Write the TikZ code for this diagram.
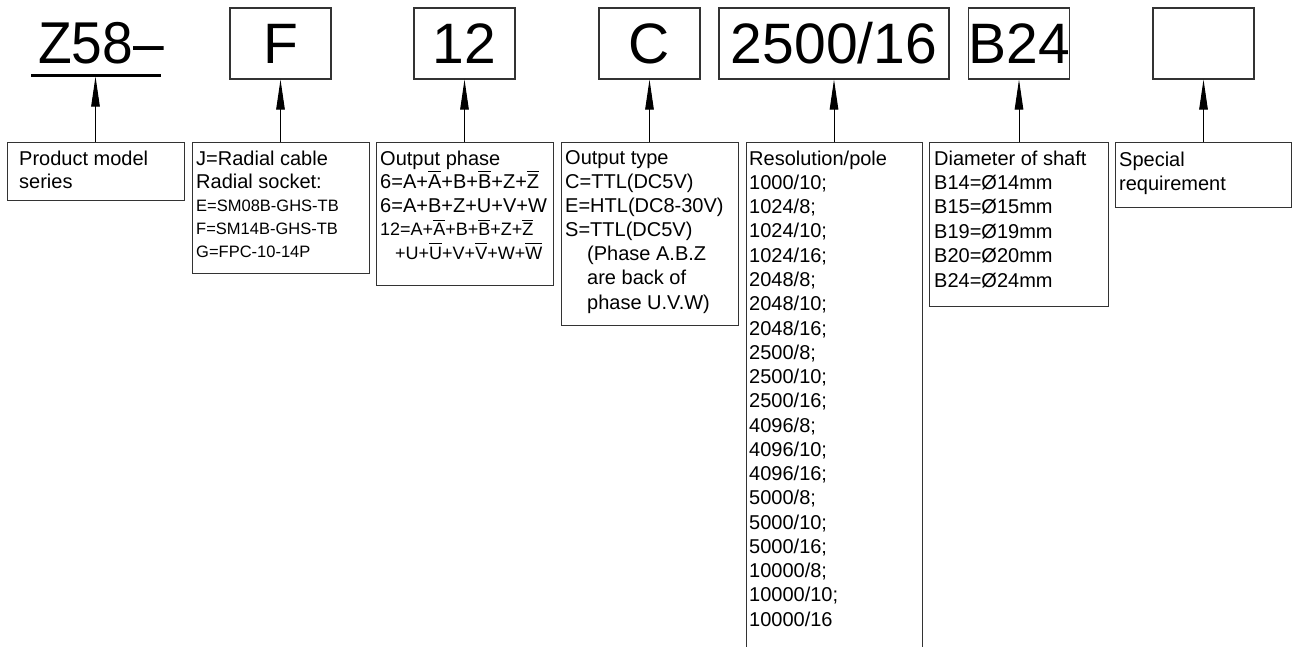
\documentclass[tikz,border=0pt]{standalone}
\usepackage{fontspec}
\setmainfont{Liberation Sans}
\newfontfamily\bigf{Liberation Sans}
\usetikzlibrary{arrows.meta}
\newcommand\ovl[1]{\smash{\vbox{\hrule height 1pt\kern 2.5pt\hbox{#1}}}}
\newcommand\tb[2]{\fontsize{20}{#1}\selectfont\begin{tabular}{@{}l@{}}#2\end{tabular}}
\newcommand\sm{\fontsize{16.5}{23}\selectfont}
\newcommand\md{\fontsize{18}{23.5}\selectfont}
\begin{document}
\begin{tikzpicture}[x=1pt,y=-1pt,
  ubox/.style={draw=black!80, line width=1.1pt, inner sep=0pt, minimum height=71pt,
    font=\bigf\fontsize{57}{60}\selectfont, text height=40.8pt, text depth=0pt},
  lbox/.style={draw=black!80, line width=1.1pt, inner sep=0pt, anchor=north west},
  txt/.style={anchor=north west, inner sep=0pt, align=left},
  arr/.style={line width=1pt, -{Triangle[length=30pt,width=8.5pt]}}]
\useasboundingbox (0,0) rectangle (1292,646);
% top row
\node[anchor=base west, inner sep=0pt, font=\bigf\fontsize{59}{60}\selectfont] (z) at (38,63) {\scalebox{0.935}[1]{Z58–}};
\draw[line width=3pt] (31,75) -- (161,75);
\coordinate (zu) at (95.5,76.5);
\node[ubox, minimum width=101pt] (uF) at (280.5,43.5) {F};
\node[ubox, minimum width=101pt] (u12) at (464.5,43.5) {12};
\node[ubox, minimum width=101pt] (uC) at (649.5,43.5) {C};
\node[ubox, minimum width=230pt] (uR) at (834,43.5) {2500/16};
\node[ubox, minimum width=100pt] (uB) at (1019,43.5) {B24};
\node[ubox, minimum width=101pt] (uS) at (1203.5,43.5) {};
% lower boxes
\node[lbox, minimum width=177pt, minimum height=58pt] (l1) at (7,142) {};
\node[lbox, minimum width=177pt, minimum height=131pt] (l2) at (192,142) {};
\node[lbox, minimum width=177pt, minimum height=143pt] (l3) at (376,142) {};
\node[lbox, minimum width=177pt, minimum height=183pt] (l4) at (561,142) {};
\node[lbox, minimum width=176pt, minimum height=530pt] (l5) at (746,142) {};
\node[lbox, minimum width=179pt, minimum height=164pt] (l6) at (929,142) {};
\node[lbox, minimum width=176pt, minimum height=65pt] (l7) at (1115,142) {};
% texts
\node[txt] (t1) at (19,148.9) {\tb{23}{Product model\\ series}};
\node[txt] (t2) at (196,148.9) {\tb{23}{J=Radial cable\\ Radial socket:\\
  \sm E=SM08B-GHS-TB\\ \sm F=SM14B-GHS-TB\\ \sm G=FPC-10-14P}};
\node[txt] (t3) at (380,148.55) {\tb{23.5}{Output phase\\
  6=A+\ovl{A}+B+\ovl{B}+Z+\ovl{Z}\\
  6=A+B+Z+U+V+W\\
  \md 12=A+\ovl{A}+B+\ovl{B}+Z+\ovl{Z}\\
  \md\hspace*{15pt}+U+\ovl{U}+V+\ovl{V}+W+\ovl{W}}};
\node[txt] (t4) at (565,147.4) {\tb{24.1}{Output type\\ C=TTL(DC5V)\\ E=HTL(DC8-30V)\\ S=TTL(DC5V)\\
  \hspace*{22pt}(Phase A.B.Z\\ \hspace*{22pt}are back of\\ \hspace*{22pt}phase U.V.W)}};
\node[txt] (t5) at (749,148.0) {\tb{24.26}{Resolution/pole\\ 1000/10;\\ 1024/8;\\ 1024/10;\\ 1024/16;\\
  2048/8;\\ 2048/10;\\ 2048/16;\\ 2500/8;\\ 2500/10;\\ 2500/16;\\ 4096/8;\\ 4096/10;\\ 4096/16;\\
  5000/8;\\ 5000/10;\\ 5000/16;\\ 10000/8;\\ 10000/10;\\ 10000/16}};
\node[txt] (t6) at (934,147.9) {\tb{24.4}{Diameter of shaft\\ B14=Ø14mm\\ B15=Ø15mm\\ B19=Ø19mm\\ B20=Ø20mm\\ B24=Ø24mm}};
\node[txt] (t7) at (1119,149.2) {\tb{24}{Special\\ requirement}};
% arrows
\draw[arr] (zu |- l1.north) -- (zu);
\draw[arr] (uF.south |- l2.north) -- (uF.south);
\draw[arr] (u12.south |- l3.north) -- (u12.south);
\draw[arr] (uC.south |- l4.north) -- (uC.south);
\draw[arr] (uR.south |- l5.north) -- (uR.south);
\draw[arr] (uB.south |- l6.north) -- (uB.south);
\draw[arr] (uS.south |- l7.north) -- (uS.south);
\end{tikzpicture}
\end{document}
